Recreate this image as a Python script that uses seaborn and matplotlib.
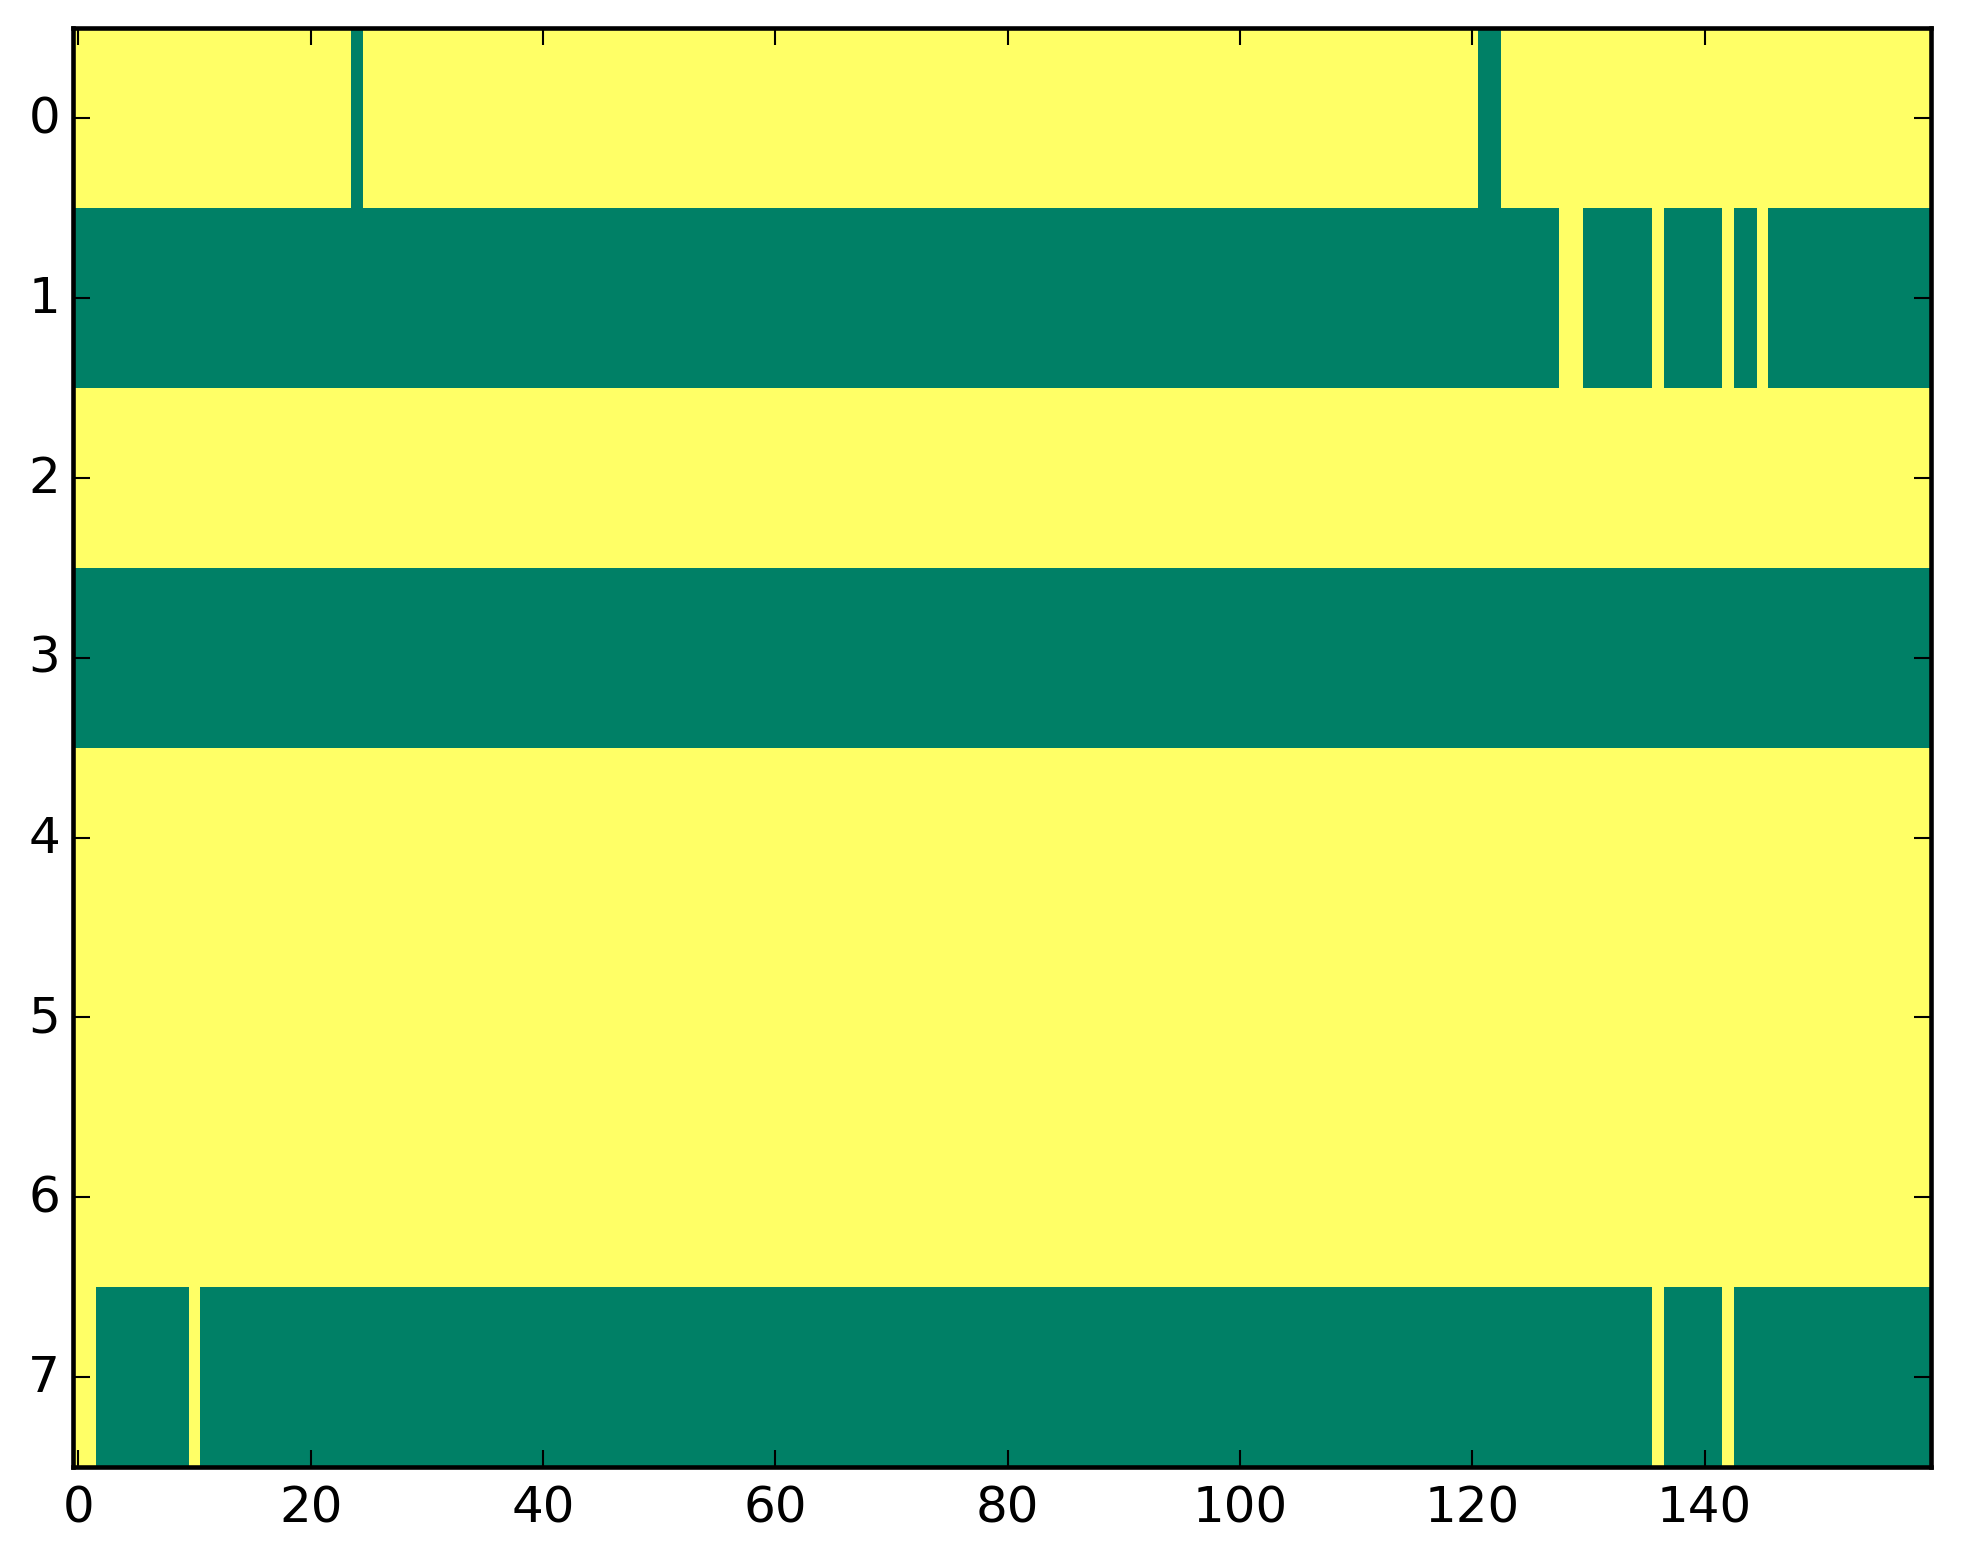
import numpy as np
import matplotlib
matplotlib.use("Agg")
import matplotlib.pyplot as plt
import seaborn as sns

n_cols = 160
# dominant value of each row (1 = yellow, 0 = green)
row_base = [1, 0, 1, 0, 1, 1, 1, 0]
# columns whose value differs from the row's dominant value
row0_flips = [24, 121, 122]
row1_flips = [128, 129, 136, 142, 145]
row2_flips = []
row3_flips = []
row4_flips = []
row5_flips = []
row6_flips = []
row7_flips = [0, 1, 10, 136, 142]
all_flips = [row0_flips, row1_flips, row2_flips, row3_flips,
             row4_flips, row5_flips, row6_flips, row7_flips]

xtick_vals = [0, 20, 40, 60, 80, 100, 120, 140]
ytick_vals = [0, 1, 2, 3, 4, 5, 6, 7]

data = np.zeros((len(row_base), n_cols))
for i, (base, flips) in enumerate(zip(row_base, all_flips)):
    data[i, :] = base
    data[i, flips] = 1 - base

fig = plt.figure(figsize=(1963 / 300, 1564 / 300), dpi=300)
ax = fig.add_axes([0.037, 0.0614, 0.9467, 0.9199])
sns.heatmap(data, cmap="summer", vmin=0, vmax=1, cbar=False, ax=ax)

for s in ax.spines.values():
    s.set_visible(True)
    s.set_linewidth(1.1)
    s.set_color("black")
    s.set_zorder(5)

ax.set_xticks(np.array(xtick_vals) + 0.5)
ax.set_xticklabels([str(v) for v in xtick_vals], rotation=0)
ax.set_yticks(np.array(ytick_vals) + 0.5)
ax.set_yticklabels([str(v) for v in ytick_vals], rotation=0)
ax.tick_params(direction="in", top=True, right=True, length=4, width=0.5,
               labelsize=12, colors="black")
ax.tick_params(axis="x", pad=4)
ax.tick_params(axis="y", pad=3)
ax.set_xlabel("")
ax.set_ylabel("")

fig.savefig("out.png", dpi=300, facecolor="white")
